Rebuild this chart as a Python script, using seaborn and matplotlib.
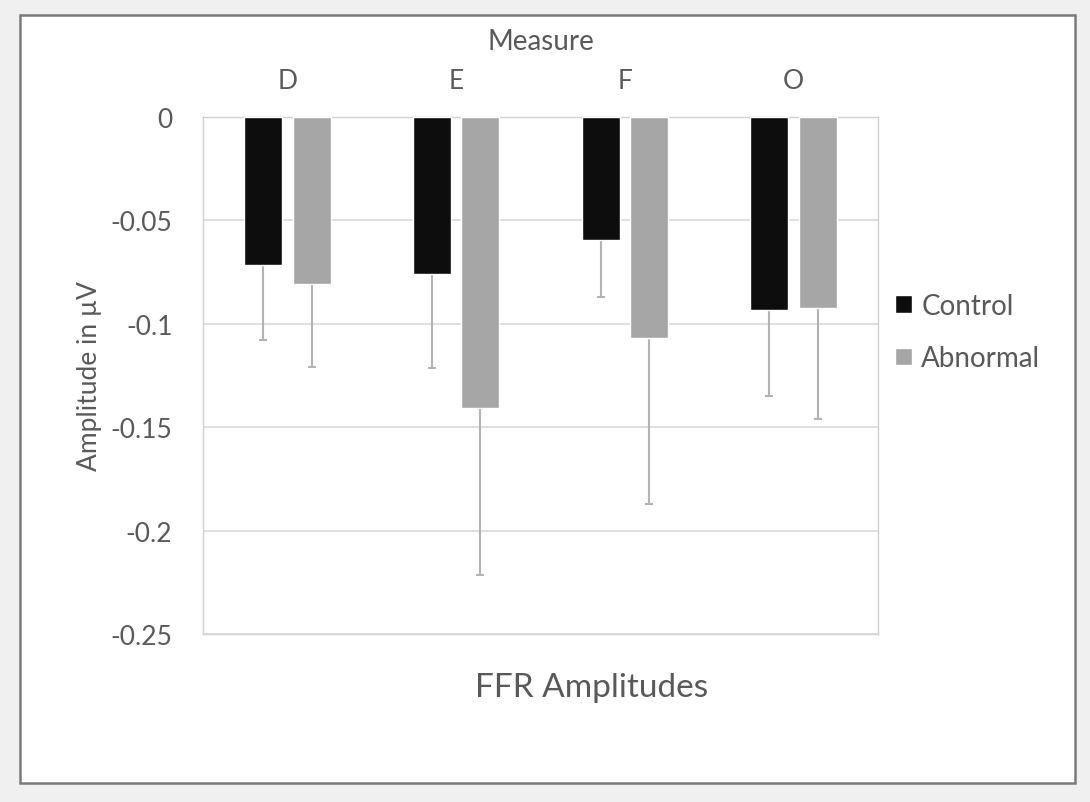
import matplotlib
matplotlib.use("Agg")
import matplotlib.pyplot as plt
from matplotlib.patches import Rectangle
import seaborn as sns
import pandas as pd

# ---- data ----
categories = ["D", "E", "F", "O"]
control = [-0.0716, -0.0761, -0.0593, -0.0932]
abnormal = [-0.0806, -0.1409, -0.1070, -0.0922]
control_err = [0.0364, 0.0451, 0.0277, 0.0415]
abnormal_err = [0.0404, 0.0804, 0.0800, 0.0538]
groups = ["Control", "Abnormal"]
y_ticks = [0, -0.05, -0.1, -0.15, -0.2, -0.25]
y_tick_labels = ["0", "-0.05", "-0.1", "-0.15", "-0.2", "-0.25"]

df = pd.DataFrame({
    "Measure": categories * 2,
    "Amplitude": control + abnormal,
    "Group": [groups[0]] * 4 + [groups[1]] * 4,
})
errs = {groups[0]: control_err, groups[1]: abnormal_err}

sns.set_theme(style="white")
plt.rcParams["font.family"] = ["Lato", "DejaVu Sans"]
plt.rcParams["axes.unicode_minus"] = False
txt = "#595959"

fig = plt.figure(figsize=(10.9, 8.03), dpi=100)
fig.patch.set_facecolor("#f0f0f0")
frame = Rectangle((20 / 1090, 1 - 784 / 803), 1055 / 1090, 768 / 803,
                  transform=fig.transFigure, facecolor="white",
                  edgecolor="#7a7a7a", linewidth=1.8, zorder=-10)
fig.patches.append(frame)

ax = fig.add_axes([203 / 1090, 1 - 635 / 803, 675 / 1090, 517 / 803])
ax.set_facecolor("white")
ax.set_zorder(1)

sns.barplot(data=df, x="Measure", y="Amplitude", hue="Group",
            palette=["#0d0d0d", "#a6a6a6"], saturation=1,
            width=0.574, gap=0.216, errorbar=None, ax=ax, zorder=3)

for cont, g in zip(ax.containers, groups):
    xs = [p.get_x() + p.get_width() / 2 for p in cont.patches]
    ys = [p.get_y() + p.get_height() for p in cont.patches]
    ax.errorbar(xs, ys, yerr=[errs[g], [0] * len(xs)], fmt="none",
                ecolor="#b3b3b3", elinewidth=1.5, capsize=3, capthick=1.5,
                zorder=2)

ax.set_ylim(-0.25, 0)
ax.set_xlim(-0.5, 3.5)
ax.set_yticks(y_ticks)
ax.set_yticklabels(y_tick_labels)
ax.yaxis.grid(True, color="#d9d9d9", linewidth=1.2, zorder=0)
ax.set_axisbelow(True)
for s in ax.spines.values():
    s.set_color("#d0d0d0")
    s.set_linewidth(1.0)

ax.xaxis.tick_top()
ax.xaxis.set_label_position("top")
ax.tick_params(axis="both", length=0, colors=txt, labelsize=19)
ax.tick_params(axis="x", pad=17)
ax.tick_params(axis="y", pad=22)
ax.set_xlabel("Measure", fontsize=20, color=txt, labelpad=14)
ax.set_ylabel("Amplitude in µV", fontsize=19, color=txt, labelpad=6)

handles, labels = ax.get_legend_handles_labels()
ax.legend(handles, labels, loc="center left",
          bbox_to_anchor=(870 / 1090, 1 - 333 / 803), bbox_transform=fig.transFigure,
          frameon=False, fontsize=20, handlelength=0.6, handleheight=0.6,
          handletextpad=0.35, labelspacing=0.95, labelcolor=txt)

fig.text(592 / 1090, 1 - 688 / 803, "FFR Amplitudes",
         ha="center", va="center", fontsize=24, color=txt)

fig.savefig("out.png", dpi=100, facecolor=fig.get_facecolor())
